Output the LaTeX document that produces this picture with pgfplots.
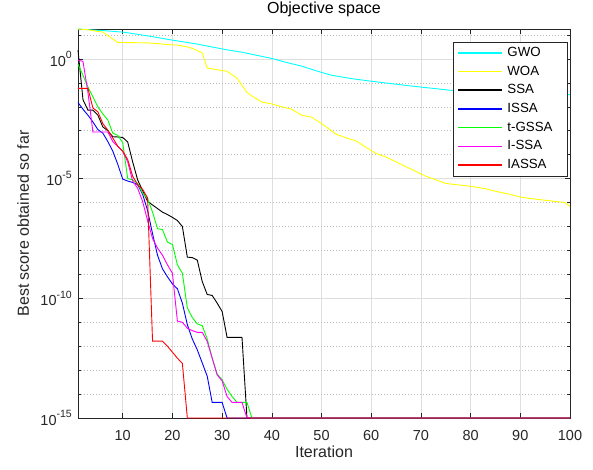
\documentclass[border=0pt]{standalone}
\usepackage{fontspec}
\setmainfont{Liberation Sans}
\usepackage{pgfplots}
\pgfplotsset{compat=1.18}
\definecolor{mcyan}{rgb}{0,1,1}
\definecolor{myellow}{rgb}{1,1,0}
\definecolor{mblack}{rgb}{0,0,0}
\definecolor{mblue}{rgb}{0,0,1}
\definecolor{mgreen}{rgb}{0,1,0}
\definecolor{mmagenta}{rgb}{1,0,1}
\definecolor{mred}{rgb}{1,0,0}
\definecolor{axgray}{rgb}{0.15,0.15,0.15}
\definecolor{gridmaj}{rgb}{0.87,0.87,0.87}
\definecolor{gridmin}{rgb}{0.72,0.72,0.72}
\newcommand\tenp[1]{10\raisebox{0.5em}{\fontsize{10.5}{10.5}\selectfont #1}}
\pgfplotsset{
  mline/.style={draw=#1, line width=0.9pt,
    legend image code/.code={\fill[fill=#1, draw=none] (0pt,-0.75pt) rectangle (44pt,0.75pt);}},
}
\begin{document}
\begin{tikzpicture}
\path[use as bounding box] (-78pt,-51pt) rectangle (515pt,418pt);
\begin{axis}[
  at={(0pt,0pt)}, anchor=south west,
  scale only axis, width=492pt, height=389pt,
  xmin=1, xmax=100, ymode=log, ymin=1e-15, ymax=17.8,
  clip=false,
  xtick={10,20,30,40,50,60,70,80,90,100},
  xticklabels={10,20,30,40,50,60,70,80,90,100},
  ytick={1e-15,1e-10,1e-5,1},
  yticklabels={\tenp{-15},\tenp{-10},\tenp{-5},\tenp{0}},
  minor ytick={1e-14,1e-13,1e-12,1e-11,1e-9,1e-8,1e-7,1e-6,1e-4,1e-3,1e-2,1e-1,10},
  grid=both,
  major grid style={gridmaj, line width=0.5pt},
  minor grid style={gridmin, line width=0.5pt, dash pattern=on 1pt off 2pt},
  tick align=inside,
  major tick length=5pt, minor tick length=3pt,
  tick style={axgray, line width=0.5pt},
  axis line style={axgray, line width=0.6pt},
  ticklabel style={font=\fontsize{14.5}{16}\selectfont, text=axgray},
  xticklabel style={anchor=base, yshift=-22pt},
  yticklabel style={anchor=east, inner sep=0pt, xshift=-6pt},
  title={Objective space},
  title style={at={(axis description cs:0.5,1)}, anchor=base, yshift=9.5pt, font=\fontsize{16}{18}\selectfont},
  xlabel={Iteration},
  xlabel style={at={(axis description cs:0.5,0)}, anchor=base, yshift=-39pt, font=\fontsize{16}{18}\selectfont, text=axgray},
  ylabel={Best score obtained so far},
  ylabel style={at={([xshift=-49pt]axis description cs:0,0.5)}, anchor=base, font=\fontsize{16}{18}\selectfont, text=axgray},
  legend style={at={(0.9953,0.9674)}, anchor=north east, draw=axgray, line width=0.5pt, fill=white,
    font=\fontsize{13.3}{15}\selectfont, inner xsep=5pt, inner ysep=4.4pt, row sep=5.7pt, column sep=5pt,
    nodes={inner sep=0pt, text height=10pt, text depth=3pt, text width=55pt, align=left}},
  legend cell align=left,
]
\addplot[mline=mcyan] coordinates {(1,17.8)(4,16.2)(7,14.8)(10,13.2)(13,10.7)(16,8.51)(19,6.61)(22,5.25)(25,4.17)(28,3.16)(31,2.40)(34,1.91)(37,1.41)(40,1.05)(43,0.708)(46,0.501)(49,0.316)(52,0.209)(56,0.151)(60,0.117)(64,0.0933)(68,0.0741)(72,0.0603)(76,0.0490)(80,0.0437)(85,0.0389)(90,0.0363)(95,0.0339)(100,0.0324)};
\addlegendentry{GWO}
\addplot[mline=myellow] coordinates {(1,17.8)(3,16.6)(5,14.1)(6,13.3)(9,4.90)(12,4.79)(15,4.68)(17,4.37)(19,3.98)(21,3.80)(23,3.16)(24,2.75)(25,2.24)(26,1.78)(27,0.417)(29,0.355)(31,0.302)(33,0.158)(34,0.0794)(35,0.0398)(36,0.0282)(38,0.0158)(40,0.0132)(42,0.01)(44,7.94e-3)(46,4.47e-3)(48,3.72e-3)(50,2.0e-3)(52,1.0e-3)(53,7.08e-4)(55,5.01e-4)(57,3.72e-4)(59,2.0e-4)(61,1.12e-4)(63,7.94e-5)(65,5.01e-5)(67,3.16e-5)(69,2.0e-5)(71,1.26e-5)(73,8.91e-6)(75,6.31e-6)(77,5.62e-6)(80,4.79e-6)(83,3.80e-6)(85,2.95e-6)(88,2.19e-6)(90,1.70e-6)(92,1.48e-6)(94,1.32e-6)(97,1.12e-6)(99,1.0e-6)(100,6.92e-7)};
\addlegendentry{WOA}
\addplot[mline=mblack] coordinates {(1,2.34)(2,0.02)(3,7.24e-3)(4,7.24e-3)(5,4.47e-3)(6,1.45e-3)(7,1.0e-3)(8,5.62e-4)(9,5.50e-4)(10,5.25e-4)(11,3.39e-4)(12,5.01e-5)(13,8.91e-6)(14,3.16e-6)(15,1.12e-6)(16,7.94e-7)(17,5.62e-7)(18,3.98e-7)(19,3.16e-7)(20,2.40e-7)(21,1.78e-7)(22,1.0e-7)(23,5.25e-9)(24,5.01e-9)(25,3.98e-9)(26,5.01e-10)(27,1.45e-10)(28,1.32e-10)(29,6.31e-11)(30,2.82e-11)(31,2.34e-12)(32,2.34e-12)(33,2.34e-12)(34,2.34e-12)(35,1e-15)(100,1e-15)};
\addlegendentry{SSA}
\addplot[mline=mblue] coordinates {(1,1.51e-2)(2,7.94e-3)(3,4.47e-3)(4,2.34e-3)(5,1.12e-3)(6,7.94e-4)(7,3.55e-4)(8,1.41e-4)(9,3.98e-5)(10,9.55e-6)(11,7.94e-6)(12,6.92e-6)(13,5.62e-6)(14,2.24e-6)(15,4.68e-7)(16,5.01e-8)(17,6.31e-9)(18,1.70e-9)(19,7.94e-10)(20,3.98e-10)(21,2.51e-10)(22,6.31e-11)(23,7.94e-12)(24,2.0e-12)(25,7.08e-13)(26,2.0e-13)(27,5.62e-14)(28,4.47e-15)(29,4.47e-15)(30,4.47e-15)(31,1e-15)(100,1e-15)};
\addlegendentry{ISSA}
\addplot[mline=mgreen] coordinates {(1,0.603)(2,0.209)(3,6.76e-2)(4,2.57e-2)(5,1.0e-2)(6,5.01e-3)(7,2.82e-3)(8,7.94e-4)(9,6.46e-4)(10,3.16e-4)(11,1.0e-5)(12,8.91e-6)(13,6.31e-6)(14,2.51e-6)(15,1.45e-6)(16,3.98e-7)(17,8.13e-8)(18,7.41e-8)(19,2.24e-8)(20,1.78e-8)(21,2.51e-9)(22,1.12e-9)(23,3.98e-11)(24,1.58e-11)(25,8.51e-12)(26,7.24e-12)(27,2.0e-12)(28,3.16e-13)(29,6.92e-14)(30,3.98e-14)(31,1.58e-14)(32,7.94e-15)(33,4.47e-15)(34,4.47e-15)(35,4.47e-15)(36,1e-15)(100,1e-15)};
\addlegendentry{t-GSSA}
\addplot[mline=mmagenta] coordinates {(1,0.891)(2,0.794)(3,3.98e-2)(4,8.91e-4)(5,8.91e-4)(6,8.91e-4)(7,8.91e-4)(8,3.55e-4)(9,2.24e-4)(10,1.41e-4)(11,5.01e-5)(12,7.94e-6)(13,3.98e-6)(14,1.12e-6)(15,1.78e-7)(16,3.16e-8)(17,1.26e-8)(18,6.31e-9)(19,2.51e-9)(20,1.12e-9)(21,1.12e-11)(22,1.0e-11)(23,5.62e-12)(24,4.47e-12)(25,3.80e-12)(26,3.80e-12)(27,1.58e-12)(28,3.16e-13)(29,6.31e-14)(30,3.55e-14)(31,7.94e-15)(32,4.47e-15)(33,4.47e-15)(34,4.47e-15)(35,1e-15)(100,1e-15)};
\addlegendentry{I-SSA}
\addplot[mline=mred] coordinates {(1,5.89e-2)(2,5.89e-2)(3,5.89e-2)(4,8.91e-3)(5,6.17e-3)(6,2.0e-3)(7,1.05e-3)(8,5.01e-4)(9,2.24e-4)(10,1.41e-4)(11,6.31e-5)(12,1.26e-5)(13,5.62e-6)(14,3.55e-6)(15,1.58e-6)(16,1.62e-12)(17,1.62e-12)(18,1.62e-12)(19,1.0e-12)(20,5.62e-13)(21,3.16e-13)(22,1.9e-13)(23,1e-15)(100,1e-15)};
\addlegendentry{IASSA}
\end{axis}
\end{tikzpicture}
\end{document}
